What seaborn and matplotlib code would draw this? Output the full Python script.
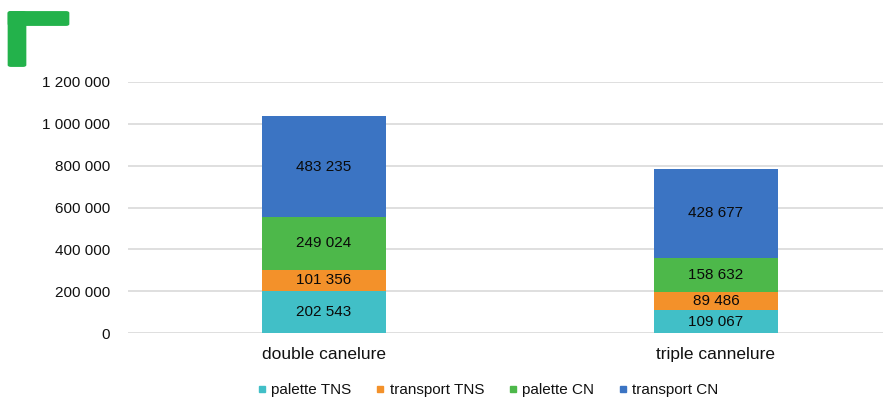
import numpy as np
import pandas as pd
import seaborn as sns
import matplotlib.pyplot as plt
from matplotlib.lines import Line2D
from matplotlib.patches import FancyBboxPatch

categories = ["double canelure", "triple cannelure"]
series = ["palette TNS", "transport TNS", "palette CN", "transport CN"]
palette_tns = [202543, 109067]
transport_tns = [101356, 89486]
palette_cn = [249024, 158632]
transport_cn = [483235, 428677]
colors = ["#41BFC7", "#F3912A", "#4DB84A", "#3B74C3"]
yticks = [0, 200000, 400000, 600000, 800000, 1000000, 1200000]


def fmt(v):
    return f"{v:,}".replace(",", " ")


sns.set_style("white")
plt.rcParams["font.family"] = ["Liberation Sans", "DejaVu Sans"]

values = [palette_tns, transport_tns, palette_cn, transport_cn]
df = pd.DataFrame(values, index=series, columns=categories).T
cum = df.cumsum(axis=1)

fig = plt.figure(figsize=(8.83, 4.01), dpi=100)
ax = fig.add_axes([128 / 883, 1 - 333.3 / 401, 784 / 883, 251.6 / 401])

# draw from the top of the stack down so lower segments cover upper ones
for i in range(len(series) - 1, -1, -1):
    d = pd.DataFrame({"cat": categories, "val": cum[series[i]].values})
    sns.barplot(data=d, x="cat", y="val", color=colors[i], width=0.314,
                saturation=1, linewidth=0, edgecolor="none", ax=ax, zorder=3)

for j, cat in enumerate(categories):
    base = 0
    for i, s in enumerate(series):
        v = df.loc[cat, s]
        ax.text(j, base + v / 2, fmt(v), ha="center", va="center",
                fontsize=11, color="#0a0a0a", zorder=4)
        base += v

ax.set_xlim(-0.5, 1.5)
ax.set_ylim(0, 1200000)
ax.set_yticks(yticks)
ax.set_yticklabels([fmt(t) for t in yticks])
ax.set_xlabel("")
ax.set_ylabel("")
ax.yaxis.grid(True, color="#D9D9D9", lw=1.2, zorder=0)
ax.set_axisbelow(True)
sns.despine(ax=ax, left=True, bottom=True)
ax.tick_params(axis="y", length=0, pad=13, labelsize=11, labelcolor="#111111")
ax.tick_params(axis="x", length=0, pad=10, labelsize=12.5, labelcolor="#111111")

handles = [Line2D([], [], marker="s", ls="none", markersize=5,
                  markerfacecolor=c, markeredgecolor=c) for c in colors]
fig.legend(handles, series, loc="center", bbox_to_anchor=(488 / 883, 1 - 390 / 401),
           ncol=4, frameon=False, fontsize=11, handlelength=0.6,
           handletextpad=0.3, columnspacing=1.6, labelcolor="#111111")

# green corner bracket
green = "#23B24B"
fig.patches.append(FancyBboxPatch((11 / 883, 1 - 24 / 401), 55 / 883, 11 / 401,
                                  boxstyle="round,pad=0.003", transform=fig.transFigure,
                                  fc=green, ec=green, lw=1))
fig.patches.append(FancyBboxPatch((11 / 883, 1 - 65 / 401), 12 / 883, 52 / 401,
                                  boxstyle="round,pad=0.003", transform=fig.transFigure,
                                  fc=green, ec=green, lw=1))

fig.savefig("out.png", dpi=100)
